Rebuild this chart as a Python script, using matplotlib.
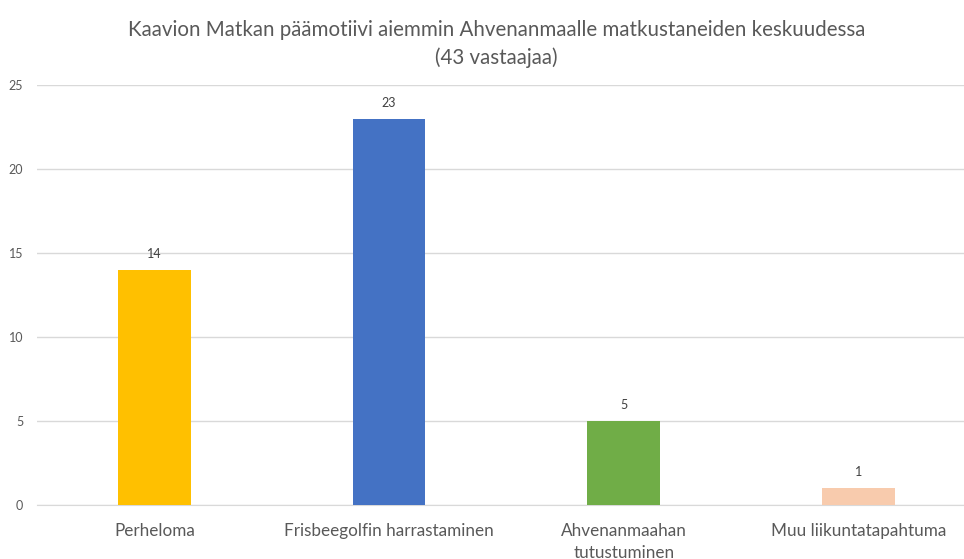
import matplotlib.pyplot as plt

plt.rcParams['font.family'] = ['Lato', 'DejaVu Sans']

categories = ['Perheloma', 'Frisbeegolfin harrastaminen', 'Ahvenanmaahan\ntutustuminen', 'Muu liikuntatapahtuma']
values = [14, 23, 5, 1]
colors = ['#FFC000', '#4472C4', '#70AD47', '#F8CBAD']

fig = plt.figure(figsize=(9.64, 5.59), dpi=100)
ax = fig.add_axes([37 / 964, 1 - 505 / 559, 1 - 37 / 964, 420 / 559])

x = range(len(categories))
bars = ax.bar(x, values, width=0.31, color=colors, zorder=3)
for b, v in zip(bars, values):
    ax.annotate(str(v), (b.get_x() + b.get_width() / 2, v), xytext=(0, 7),
                textcoords='offset points', ha='center', va='bottom',
                fontsize=9, color='#404040')

ax.set_xlim(-0.5, 3.45)
ax.set_ylim(0, 25)
ax.set_yticks(range(0, 26, 5))
ax.yaxis.grid(True, color='#D9D9D9', linewidth=1, zorder=0)
ax.set_xticks(list(x))
ax.set_xticklabels(categories, fontsize=12.3, color='#595959', linespacing=1.45)
ax.tick_params(axis='x', length=0, pad=13)
ax.tick_params(axis='y', length=0, pad=10, labelsize=9, labelcolor='#595959')
for s in ['top', 'right', 'left']:
    ax.spines[s].set_visible(False)
ax.spines['bottom'].set_color('#D9D9D9')

fig.suptitle('Kaavion Matkan päämotiivi aiemmin Ahvenanmaalle matkustaneiden keskuudessa\n(43 vastaajaa)',
             x=0.515, y=0.965, fontsize=14.8, color='#595959', linespacing=1.5)

fig.savefig('out.png', dpi=100)
